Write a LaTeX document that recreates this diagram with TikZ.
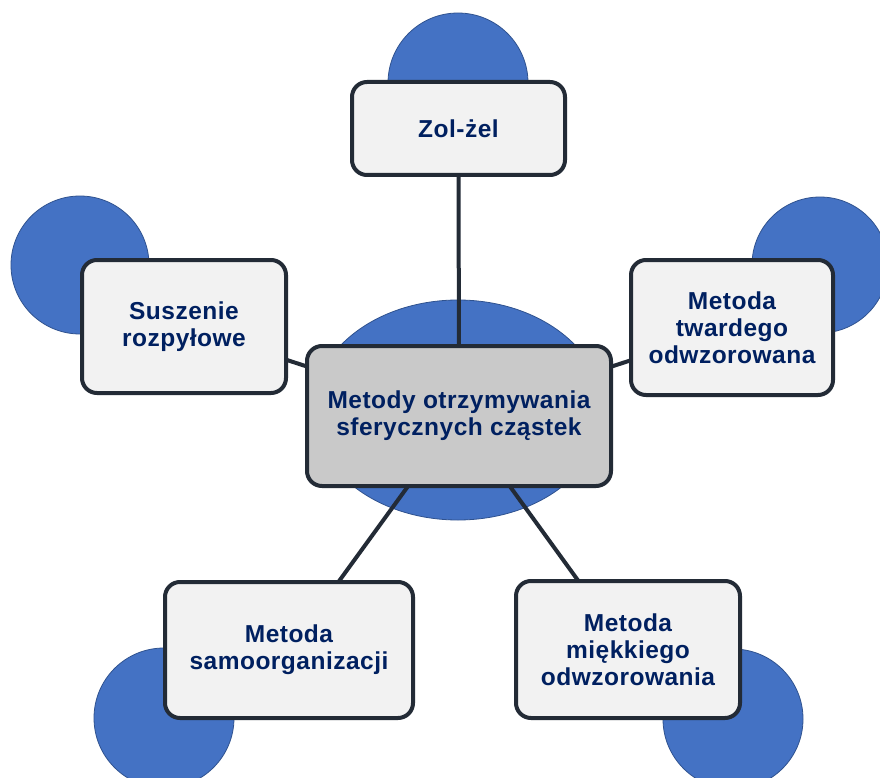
\documentclass[tikz,border=0pt]{standalone}
\usepackage{fontspec}
\setmainfont{Liberation Sans}[LetterSpace=2]
\definecolor{blob}{HTML}{4472C4}
\definecolor{blobedge}{HTML}{2F528F}
\definecolor{boxedge}{HTML}{232B36}
\definecolor{boxfill}{HTML}{F2F2F2}
\definecolor{cfill}{HTML}{C9C9C9}
\definecolor{txt}{HTML}{002060}
\pgfdeclarelayer{blobs}
\pgfdeclarelayer{links}
\pgfsetlayers{blobs,links,main}
\begin{document}
\begin{tikzpicture}[x=1pt,y=-1pt,
  blobst/.style={fill=blob, draw=blobedge, line width=0.8pt},
  boxst/.style={rectangle, draw=boxedge, line width=4pt, rounded corners=15pt,
    fill=boxfill, align=center, text=txt, inner sep=0pt,
    font=\bfseries\fontsize{24.5}{27}\selectfont},
  centerst/.style={boxst, fill=cfill},
  link/.style={draw=boxedge, line width=4pt}]
\useasboundingbox (0,0) rectangle (880,778);
\clip (0,0) rectangle (880,778);

\node[centerst, minimum width=304pt, minimum height=140pt] (c) at (459,416)
  {Metody otrzymywania\\sferycznych cząstek};
\node[boxst, minimum width=213pt, minimum height=93pt] (t) at (458.5,128.5) {Zol-żel};
\node[boxst, minimum width=204pt, minimum height=133pt] (l) at (184,326.5) {Suszenie\\rozpyłowe};
\node[boxst, minimum width=202pt, minimum height=135pt] (r) at (732,327.5) {Metoda\\twardego\\odwzorowana};
\node[boxst, minimum width=248pt, minimum height=136pt] (bl) at (289,650) {Metoda\\samoorganizacji};
\node[boxst, minimum width=224pt, minimum height=137pt] (br) at (628,649.5) {Metoda\\miękkiego\\odwzorowania};

\begin{pgfonlayer}{links}
  \draw[link] (c.center) -- (t.center);
  \draw[link] (c.center) -- (l.center);
  \draw[link] (c.center) -- (r.center);
  \draw[link] (c.center) -- (bl.center);
  \draw[link] (c.center) -- (br.center);
\end{pgfonlayer}

\begin{pgfonlayer}{blobs}
  \fill[white] (0,0) rectangle (880,778);
  \draw[blobst] (458,410) ellipse [x radius=145, y radius=110];
  \draw[blobst] (458,83) circle [radius=70];
  \draw[blobst] (80,265) circle [radius=69];
  \draw[blobst] (820,265) circle [radius=68];
  \draw[blobst] (164,718) circle [radius=70];
  \draw[blobst] (733,719) circle [radius=70];
\end{pgfonlayer}
\end{tikzpicture}
\end{document}
